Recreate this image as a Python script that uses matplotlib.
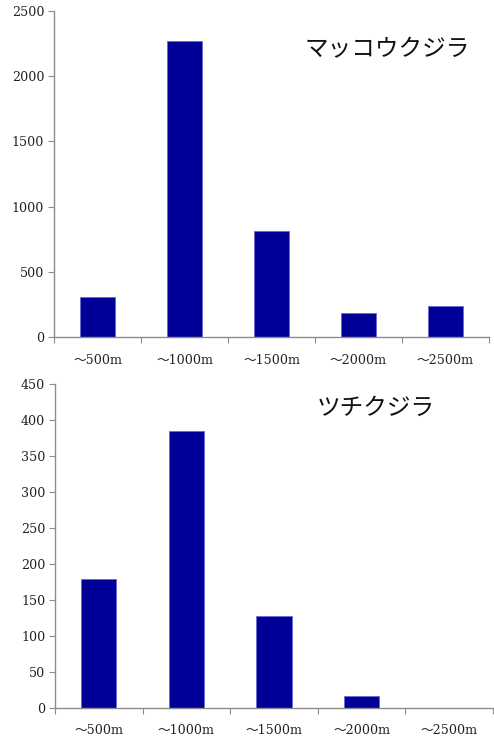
"""
Dive depth frequency for two beaked/sperm whales, two stacked bar panels.
"""
import matplotlib.pyplot as plt
import matplotlib.ticker as mticker

depth_labels = ['〜500m', '〜1000m', '〜1500m', '〜2000m', '〜2500m']
sperm_whale = [308, 2274, 814, 187, 237]      # マッコウクジラ
bairds_whale = [179, 384, 128, 17, 0]          # ツチクジラ

TICK_FONT = ['DejaVu Serif', 'Noto Sans CJK JP', 'DejaVu Sans']
TITLE_FONT = ['Noto Sans CJK JP', 'DejaVu Sans']
BAR_COLOR = '#000099'
AXIS_COLOR = '#8c8c8c'

fig = plt.figure(figsize=(4.94, 7.37), dpi=100)
ax_top = fig.add_axes([0.1093, 0.5427, 0.8806, 0.4423])
ax_bot = fig.add_axes([0.1113, 0.0397, 0.8867, 0.4393])


def draw_panel(ax, values, ymax, step, title, title_xy):
    pos = list(range(len(values)))
    ax.bar(pos, values, width=0.4, color=BAR_COLOR,
           edgecolor='#6a6ad0', linewidth=0.6, zorder=2)
    ax.set_xlim(-0.5, len(values) - 0.5)
    ax.set_ylim(0, ymax)
    ax.yaxis.set_major_locator(mticker.MultipleLocator(step))

    # category boundaries get the tick marks, centres get the labels
    ax.set_xticks([p - 0.5 for p in pos] + [len(values) - 0.5])
    ax.set_xticklabels([])
    ax.set_xticks(pos, minor=True)
    ax.set_xticklabels(depth_labels, minor=True)
    ax.tick_params(axis='x', which='major', length=4, width=0.8,
                   color=AXIS_COLOR, direction='out')
    ax.tick_params(axis='x', which='minor', length=0, pad=12)
    ax.tick_params(axis='y', length=4, width=0.8, color=AXIS_COLOR,
                   direction='out', pad=3)

    for lab in ax.get_xticklabels(minor=True) + ax.get_yticklabels():
        lab.set_family(TICK_FONT)
        lab.set_fontsize(9.1)
        lab.set_color('#222222')

    for side in ('top', 'right'):
        ax.spines[side].set_visible(False)
    for side in ('left', 'bottom'):
        ax.spines[side].set_color(AXIS_COLOR)
        ax.spines[side].set_linewidth(1.0)

    ax.text(title_xy[0], title_xy[1], title, transform=fig.transFigure,
            ha='center', va='center', fontsize=17, family=TITLE_FONT,
            color='#111111')


draw_panel(ax_top, sperm_whale, 2500, 500, 'マッコウクジラ',
           (387 / 494, 1 - 50 / 737))
draw_panel(ax_bot, bairds_whale, 450, 50, 'ツチクジラ',
           (376 / 494, 1 - 408 / 737))

plt.savefig('out.png', dpi=100)
